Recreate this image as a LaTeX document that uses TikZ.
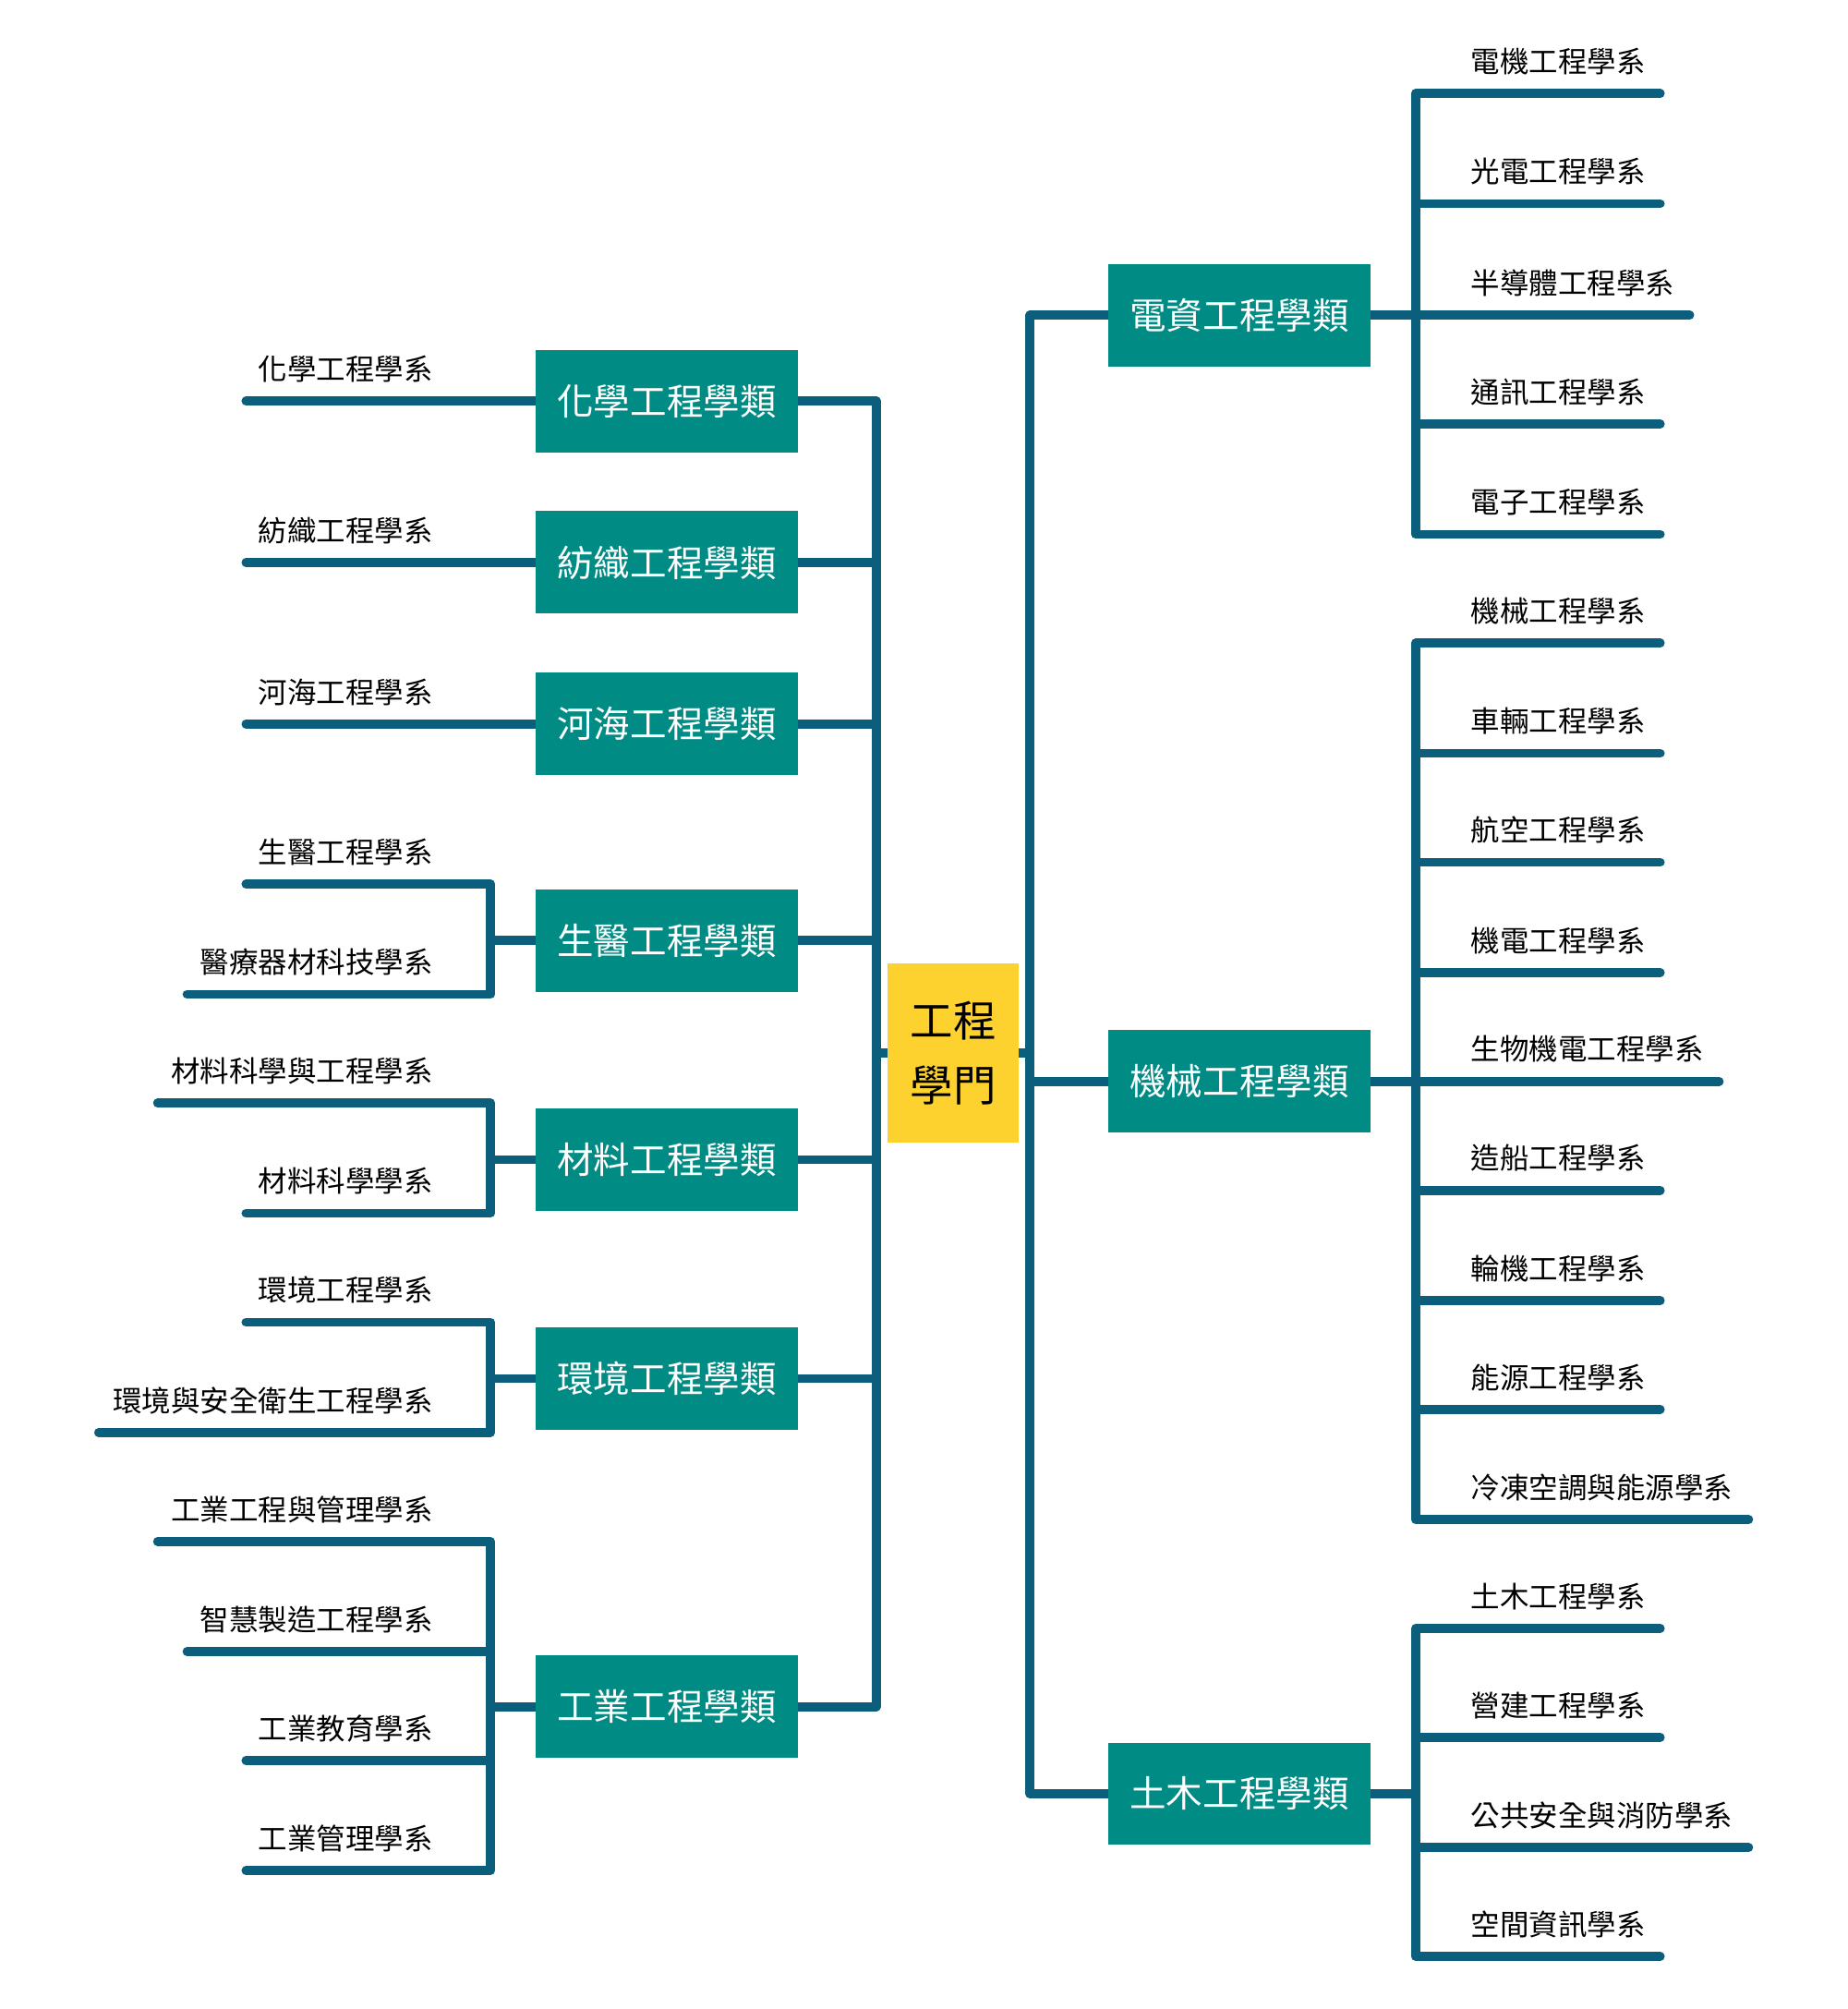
\documentclass[tikz,border=0pt]{standalone}
\usepackage{fontspec}
\newfontfamily\cjk{Noto Sans CJK TC}
\usetikzlibrary{backgrounds}
\definecolor{linec}{HTML}{0B5E7C}
\definecolor{catc}{HTML}{008C85}
\definecolor{rootc}{HTML}{FDD22F}
\begin{document}
\begin{tikzpicture}[x=1pt,y=-1pt,
  conn/.style={draw=linec,line width=7pt,line cap=round,line join=round},
  cat/.style={fill=catc,text=white,minimum width=205pt,minimum height=80pt,inner sep=0pt,font=\cjk\fontsize{28.5}{34}\selectfont},
  rootbox/.style={fill=rootc,text=black,minimum width=102pt,minimum height=140pt,inner sep=0pt,align=center,font=\cjk\fontsize{33.5}{50}\selectfont},
  lblR/.style={anchor=west,inner sep=0pt,text=black,font=\cjk\fontsize{22.7}{26}\selectfont},
  lblL/.style={anchor=east,inner sep=0pt,text=black,font=\cjk\fontsize{22.7}{26}\selectfont}]
\useasboundingbox (0,0) rectangle (1442,1568);

% root
\node[rootbox] (root) at (744,822) {工程\\學門};
\coordinate (rootL) at (684,822);
\coordinate (rootR) at (804,822);

% right categories
\node[cat] (ee) at (967.5,246) {電資工程學類};
\node[cat] (me) at (967.5,844) {機械工程學類};
\node[cat] (ce) at (967.5,1400) {土木工程學類};
\coordinate (jee) at (1105,246);
\coordinate (jme) at (1105,844);
\coordinate (jce) at (1105,1400);

% left categories
\node[cat] (chem) at (520.5,313) {化學工程學類};
\node[cat] (text) at (520.5,439) {紡織工程學類};
\node[cat] (hyd) at (520.5,565) {河海工程學類};
\node[cat] (bio) at (520.5,734) {生醫工程學類};
\node[cat] (mat) at (520.5,905) {材料工程學類};
\node[cat] (env) at (520.5,1076) {環境工程學類};
\node[cat] (ind) at (520.5,1332) {工業工程學類};
\coordinate (jbio) at (383,734);
\coordinate (jmat) at (383,905);
\coordinate (jenv) at (383,1076);
\coordinate (jind) at (383,1332);

% right labels and line ends
\foreach \n/\y/\e/\t in {
  r1/73/1296/電機工程學系, r2/159/1296/光電工程學系, r3/246/1319/半導體工程學系,
  r4/331/1296/通訊工程學系, r5/417/1296/電子工程學系}{
  \node[lblR] (\n) at (1148,\y-25) {\t};
  \coordinate (\n e) at (\e,\y);
}
\foreach \n/\y/\e/\t in {
  m1/502/1296/機械工程學系, m2/588/1296/車輛工程學系, m3/673/1296/航空工程學系,
  m4/759/1296/機電工程學系, m5/844/1342/生物機電工程學系, m6/929/1296/造船工程學系,
  m7/1015/1296/輪機工程學系, m8/1100/1296/能源工程學系, m9/1186/1365/冷凍空調與能源學系}{
  \node[lblR] (\n) at (1148,\y-25) {\t};
  \coordinate (\n e) at (\e,\y);
}
\foreach \n/\y/\e/\t in {
  c1/1271/1296/土木工程學系, c2/1356/1296/營建工程學系,
  c3/1442/1365/公共安全與消防學系, c4/1527/1296/空間資訊學系}{
  \node[lblR] (\n) at (1148,\y-25) {\t};
  \coordinate (\n e) at (\e,\y);
}

% left labels and line ends
\foreach \n/\y/\e/\t in {
  l1/313/192/化學工程學系, l2/439/192/紡織工程學系, l3/565/192/河海工程學系,
  b1/690/192/生醫工程學系, b2/776/146/醫療器材科技學系,
  a1/861/123/材料科學與工程學系, a2/947/192/材料科學學系,
  v1/1032/192/環境工程學系, v2/1118/77/環境與安全衛生工程學系,
  i1/1203/123/工業工程與管理學系, i2/1289/146/智慧製造工程學系,
  i3/1374/192/工業教育學系, i4/1460/192/工業管理學系}{
  \node[lblL] (\n) at (338,\y-25) {\t};
  \coordinate (\n e) at (\e,\y);
}

\begin{pgfonlayer}{background}
  \fill[white] (0,0) rectangle (1442,1568);
  % root to trunks
  \draw[conn] (root.west) -- (rootL);
  \draw[conn] (root.east) -- (rootR);
  \foreach \c in {chem,text,hyd,bio,mat,env,ind}
    \draw[conn] (rootL) |- (\c.east);
  \foreach \c in {ee,me,ce}
    \draw[conn] (rootR) |- (\c.west);
  % right branches
  \draw[conn] (ee.east) -- (jee);
  \draw[conn] (me.east) -- (jme);
  \draw[conn] (ce.east) -- (jce);
  \foreach \n in {r1,r2,r3,r4,r5} \draw[conn] (jee) |- (\n e);
  \foreach \n in {m1,m2,m3,m4,m5,m6,m7,m8,m9} \draw[conn] (jme) |- (\n e);
  \foreach \n in {c1,c2,c3,c4} \draw[conn] (jce) |- (\n e);
  % left branches
  \draw[conn] (l1e) -- (chem.west);
  \draw[conn] (l2e) -- (text.west);
  \draw[conn] (l3e) -- (hyd.west);
  \draw[conn] (bio.west) -- (jbio);
  \draw[conn] (mat.west) -- (jmat);
  \draw[conn] (env.west) -- (jenv);
  \draw[conn] (ind.west) -- (jind);
  \foreach \n in {b1,b2} \draw[conn] (jbio) |- (\n e);
  \foreach \n in {a1,a2} \draw[conn] (jmat) |- (\n e);
  \foreach \n in {v1,v2} \draw[conn] (jenv) |- (\n e);
  \foreach \n in {i1,i2,i3,i4} \draw[conn] (jind) |- (\n e);
\end{pgfonlayer}
\end{tikzpicture}
\end{document}
